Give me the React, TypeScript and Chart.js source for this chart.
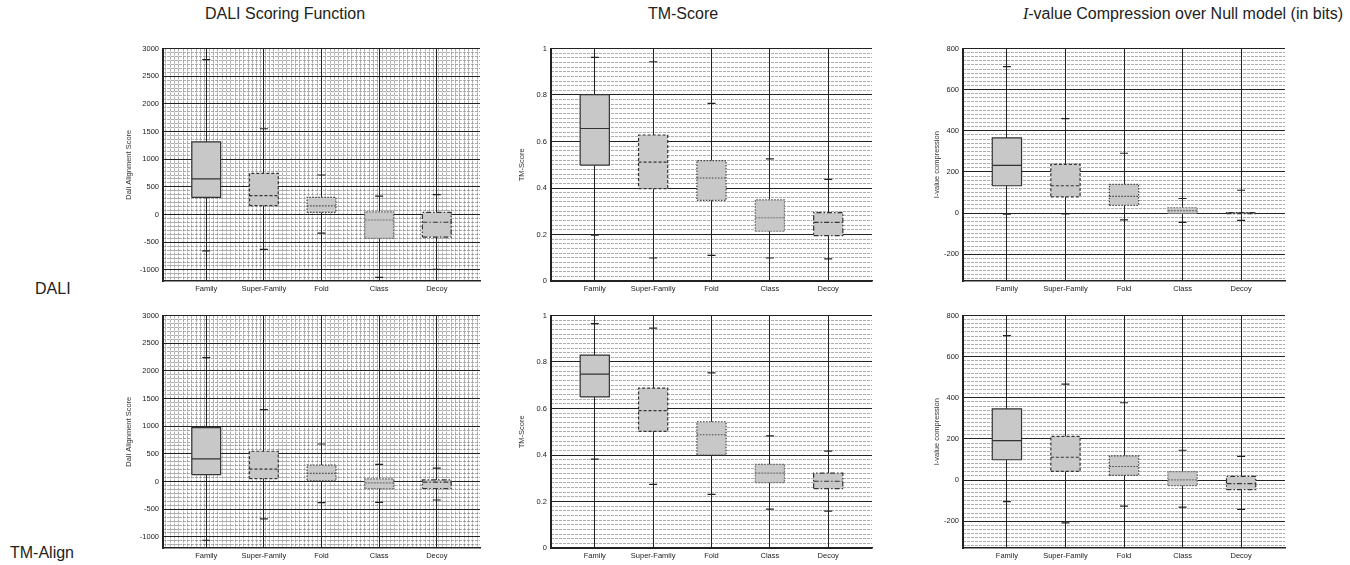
import React, { useEffect, useRef } from 'react';
import { Chart, registerables } from 'chart.js';

Chart.register(...registerables);

// ---------- data ----------
const CATEGORIES = ['Family', 'Super-Family', 'Fold', 'Class', 'Decoy'];
const ROW_LABELS = ['DALI', 'TM-Align'];

// tick labels
const SCORE_TICKS = [-1000, -500, 0, 500, 1000, 1500, 2000, 2500, 3000];
const TM_TICKS = [0, 0.2, 0.4, 0.6, 0.8, 1];
const IVALUE_TICKS = [-200, 0, 200, 400, 600, 800];

// DALI aligner — DALI alignment score
const DALI_SCORE_Q1 = [312, 163, 39, -430, -407];
const DALI_SCORE_MED = [644, 341, 157, -98, -139];
const DALI_SCORE_Q3 = [1315, 745, 312, 50, 39];
const DALI_SCORE_HI = [2800, 1550, 715, 335, 360];
const DALI_SCORE_LO = [-655, -630, -335, -1135, -990];

// DALI aligner — TM-score
const DALI_TM_Q1 = [0.498, 0.397, 0.347, 0.214, 0.195];
const DALI_TM_MED = [0.656, 0.511, 0.443, 0.272, 0.252];
const DALI_TM_Q3 = [0.802, 0.628, 0.518, 0.349, 0.294];
const DALI_TM_HI = [0.962, 0.943, 0.764, 0.525, 0.437];
const DALI_TM_LO = [0.197, 0.099, 0.11, 0.099, 0.095];

// DALI aligner — I-value compression
const DALI_IV_Q1 = [133, 79, 38, -2, -3];
const DALI_IV_MED = [232, 133, 81, 12, 0];
const DALI_IV_Q3 = [366, 237, 140, 26, 3];
const DALI_IV_HI = [712, 459, 291, 71, 111];
const DALI_IV_LO = [-5, -4, -33, -45, -35];

// TM-Align aligner — DALI alignment score
const TMA_SCORE_Q1 = [125, 54, 12, -125, -125];
const TMA_SCORE_MED = [411, 226, 149, -24, -10];
const TMA_SCORE_Q3 = [976, 548, 298, 48, 30];
const TMA_SCORE_HI = [2238, 1298, 679, 310, 244];
const TMA_SCORE_LO = [-1060, -673, -381, -375, -333];

// TM-Align aligner — TM-score
const TMA_TM_Q1 = [0.65, 0.502, 0.4, 0.281, 0.255];
const TMA_TM_MED = [0.748, 0.591, 0.487, 0.322, 0.287];
const TMA_TM_Q3 = [0.83, 0.688, 0.543, 0.36, 0.322];
const TMA_TM_HI = [0.965, 0.946, 0.753, 0.482, 0.417];
const TMA_TM_LO = [0.382, 0.274, 0.231, 0.167, 0.159];

// TM-Align aligner — I-value compression
const TMA_IV_Q1 = [99, 42, 23, -27, -46];
const TMA_IV_MED = [192, 111, 66, 1, -17];
const TMA_IV_Q3 = [346, 213, 118, 41, 18];
const TMA_IV_HI = [702, 466, 376, 145, 115];
const TMA_IV_LO = [-105, -208, -126, -131, -142];

// ---------- styles / layout ----------
const FONT = 'Liberation Sans, Arial, Helvetica, sans-serif';
const BOX_FILL = '#c8c8c8';
const BOX_HALF = 0.25;
const BOX_STYLES = [
  { dash: [], color: '#333' },
  { dash: [3, 2], color: '#333' },
  { dash: [1.5, 1.5], color: '#444' },
  { dash: [2, 1], color: '#777' },
  { dash: [5, 2, 1.5, 2], color: '#333' },
];
const COLS = [
  { left: 163, right: 480 },
  { left: 551, right: 872 },
  { left: 963, right: 1285 },
];
const ROWS = [
  { top: 46, bottom: 281 },
  { top: 313, bottom: 548 },
];
const Y_AXIS_W = 62;
const X_AXIS_H = 18;
const PAD_T = 6;
const PAD_R = 6;

const SCORE_AXIS = { ticks: SCORE_TICKS, min: -1200, max: 3000, minor: 500 / 7, title: 'Dali Alignment Score', titlePad: 23.5, xMinor: true };
const TM_AXIS = { ticks: TM_TICKS, min: 0, max: 1, minor: 0.02, title: 'TM-Score', titlePad: 28, xMinor: false };
const IV_AXIS = { ticks: IVALUE_TICKS, min: -330, max: 800, minor: 20, title: 'I-value compression', titlePad: 31, xMinor: false };

const PANELS = [
  { row: 0, col: 0, axis: SCORE_AXIS, q1: DALI_SCORE_Q1, med: DALI_SCORE_MED, q3: DALI_SCORE_Q3, hi: DALI_SCORE_HI, lo: DALI_SCORE_LO },
  { row: 0, col: 1, axis: TM_AXIS, q1: DALI_TM_Q1, med: DALI_TM_MED, q3: DALI_TM_Q3, hi: DALI_TM_HI, lo: DALI_TM_LO },
  { row: 0, col: 2, axis: IV_AXIS, q1: DALI_IV_Q1, med: DALI_IV_MED, q3: DALI_IV_Q3, hi: DALI_IV_HI, lo: DALI_IV_LO },
  { row: 1, col: 0, axis: SCORE_AXIS, q1: TMA_SCORE_Q1, med: TMA_SCORE_MED, q3: TMA_SCORE_Q3, hi: TMA_SCORE_HI, lo: TMA_SCORE_LO },
  { row: 1, col: 1, axis: TM_AXIS, q1: TMA_TM_Q1, med: TMA_TM_MED, q3: TMA_TM_Q3, hi: TMA_TM_HI, lo: TMA_TM_LO },
  { row: 1, col: 2, axis: IV_AXIS, q1: TMA_IV_Q1, med: TMA_IV_MED, q3: TMA_IV_Q3, hi: TMA_IV_HI, lo: TMA_IV_LO },
];

function minorValues(min: number, max: number, step: number) {
  const out: number[] = [];
  const start = Math.ceil(min / step - 1e-9);
  for (let n = start; n * step <= max + 1e-9; n++) out.push(n * step);
  return out;
}

function buildDatasets(p: any) {
  const ds: any[] = [];
  // boxes (drawn first: highest order)
  CATEGORIES.forEach((_, i) => {
    const x = i + 1;
    const st = BOX_STYLES[i];
    ds.push({
      order: 3,
      data: [
        { x: x - BOX_HALF, y: p.q1[i] },
        { x: x + BOX_HALF, y: p.q1[i] },
        { x: x + BOX_HALF, y: p.q3[i] },
        { x: x - BOX_HALF, y: p.q3[i] },
        { x: x - BOX_HALF, y: p.q1[i] },
      ],
      fill: 'shape',
      backgroundColor: BOX_FILL,
      borderColor: st.color,
      borderDash: st.dash,
      borderWidth: 1.2,
      pointRadius: 0,
      tension: 0,
    });
  });
  // medians
  CATEGORIES.forEach((_, i) => {
    const x = i + 1;
    const st = BOX_STYLES[i];
    ds.push({
      order: 2,
      data: [
        { x: x - BOX_HALF, y: p.med[i] },
        { x: x + BOX_HALF, y: p.med[i] },
      ],
      fill: false,
      borderColor: st.color,
      borderDash: st.dash,
      borderWidth: 1.2,
      pointRadius: 0,
      tension: 0,
    });
  });
  // whisker caps
  ds.push({
    order: 1,
    data: CATEGORIES.flatMap((_, i) => [
      { x: i + 1, y: p.hi[i] },
      { x: i + 1, y: p.lo[i] },
    ]),
    showLine: false,
    pointStyle: 'line',
    pointRadius: 4,
    pointBorderColor: '#222',
    pointBorderWidth: 1.2,
  });
  return ds;
}

function Panel({ p }: { p: any }) {
  const ref = useRef<HTMLCanvasElement>(null);
  const col = COLS[p.col];
  const row = ROWS[p.row];
  const width = col.right - col.left + Y_AXIS_W + PAD_R;
  const height = row.bottom - row.top + PAD_T + X_AXIS_H;
  const left = col.left - Y_AXIS_W;
  const top = row.top - PAD_T;

  useEffect(() => {
    if (!ref.current) return;
    const a = p.axis;
    const xMin = 0.25;
    const xMax = 5.75;
    const scales: any = {
      x: {
        type: 'linear',
        position: 'bottom',
        min: xMin,
        max: xMax,
        afterBuildTicks: (s: any) => {
          s.ticks = CATEGORIES.map((_, i) => ({ value: i + 1 }));
        },
        afterFit: (s: any) => {
          s.height = X_AXIS_H;
        },
        ticks: {
          autoSkip: false,
          maxRotation: 0,
          padding: 3,
          color: '#222',
          font: { family: FONT, size: 7.5 },
          callback: (v: any) => CATEGORIES[Math.round(v) - 1] ?? '',
        },
        grid: { color: '#222', lineWidth: 1, drawTicks: false },
        border: { color: '#222', width: 1.5 },
      },
      y: {
        type: 'linear',
        position: 'left',
        min: a.min,
        max: a.max,
        afterBuildTicks: (s: any) => {
          s.ticks = a.ticks.map((v: number) => ({ value: v }));
        },
        afterFit: (s: any) => {
          s.width = Y_AXIS_W;
        },
        ticks: {
          padding: 4,
          color: '#222',
          font: { family: FONT, size: 7.5 },
          callback: (v: any) => String(v),
        },
        grid: { color: '#222', lineWidth: 1, drawTicks: false },
        border: { color: '#222', width: 2 },
        title: {
          display: true,
          text: a.title,
          color: '#333',
          font: { family: FONT, size: 7.5 },
          padding: { top: a.titlePad, bottom: 0 },
        },
      },
      yMinor: {
        type: 'linear',
        position: 'left',
        min: a.min,
        max: a.max,
        afterBuildTicks: (s: any) => {
          s.ticks = minorValues(a.min, a.max, a.minor).map((v) => ({ value: v }));
        },
        afterFit: (s: any) => {
          s.width = 0;
        },
        ticks: { display: false },
        grid: { color: 'rgba(120,120,120,0.6)', lineWidth: 1, drawTicks: false, z: -2 },
        border: { display: false, dash: [3, 1] },
      },
    };
    if (a.xMinor) {
      scales.xMinor = {
        type: 'linear',
        position: 'bottom',
        min: xMin,
        max: xMax,
        afterBuildTicks: (s: any) => {
          s.ticks = minorValues(xMin, xMax, 0.075).map((v) => ({ value: v }));
        },
        afterFit: (s: any) => {
          s.height = 0;
        },
        ticks: { display: false },
        grid: { color: 'rgba(120,120,120,0.6)', lineWidth: 1, drawTicks: false, z: -2 },
        border: { display: false, dash: [3, 1] },
      };
    }
    const chart = new Chart(ref.current, {
      type: 'line',
      data: { datasets: buildDatasets(p) },
      options: {
        responsive: false,
        animation: false,
        devicePixelRatio: 1,
        layout: { padding: { top: PAD_T, right: PAD_R, left: 0, bottom: 0 } },
        plugins: { legend: { display: false }, tooltip: { enabled: false } },
        events: [],
        scales,
      } as any,
    });
    return () => chart.destroy();
  }, []);

  return (
    <canvas
      ref={ref}
      width={width}
      height={height}
      style={{ position: 'absolute', left, top, width, height }}
    />
  );
}

const textStyle: React.CSSProperties = {
  position: 'absolute',
  fontFamily: FONT,
  fontSize: 16,
  lineHeight: '18px',
  color: '#222',
  whiteSpace: 'nowrap',
};

export default function App() {
  return (
    <div style={{ position: 'absolute', left: 0, top: 0, width: 1350, height: 565, background: '#fff', overflow: 'hidden' }}>
      <div style={{ ...textStyle, left: 285, top: 5, transform: 'translateX(-50%)' }}>DALI Scoring Function</div>
      <div style={{ ...textStyle, left: 683, top: 5, transform: 'translateX(-50%)' }}>TM-Score</div>
      <div style={{ ...textStyle, left: 1183, top: 5, transform: 'translateX(-50%)' }}>
        <span style={{ fontFamily: 'Liberation Serif, serif', fontStyle: 'italic' }}>I</span>-value Compression over Null model (in bits)
      </div>
      <div style={{ ...textStyle, left: 35, top: 280 }}>{ROW_LABELS[0]}</div>
      <div style={{ ...textStyle, left: 10, top: 544 }}>{ROW_LABELS[1]}</div>
      {PANELS.map((p, i) => (
        <Panel key={i} p={p} />
      ))}
    </div>
  );
}
